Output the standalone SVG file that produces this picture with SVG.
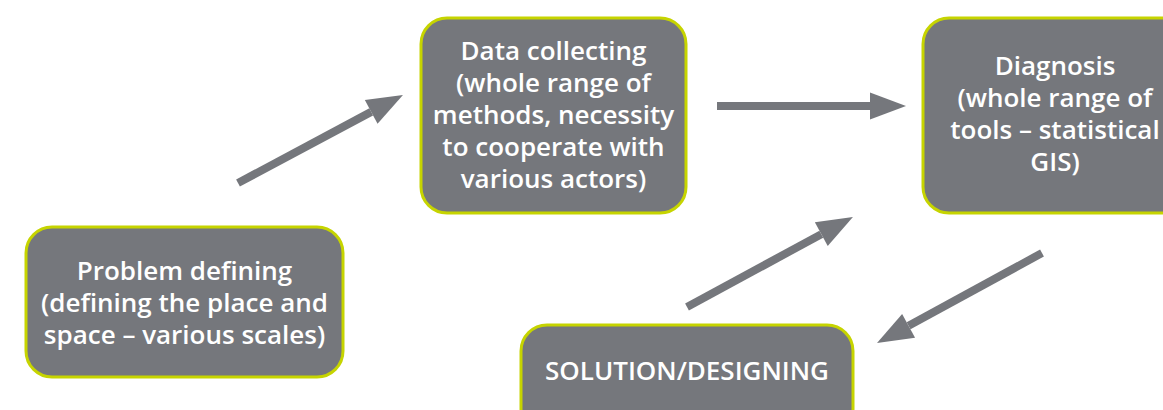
<svg xmlns="http://www.w3.org/2000/svg" width="1163" height="410" viewBox="0 0 1163 410">
<style>
.box{fill:#75777c;stroke:#c6d400;stroke-width:3}
.t{fill:#ffffff;font-family:"Open Sans","Noto Sans",sans-serif;font-weight:600;font-size:26px;text-anchor:middle}
.c{stroke:#75777c;stroke-width:8;fill:none;marker-end:url(#ah)}
</style>
<defs>
<marker id="ah" markerUnits="userSpaceOnUse" markerWidth="40" markerHeight="30" viewBox="0 -15 40 30" refX="0" refY="0" orient="auto" overflow="visible">
<path d="M0,-13.5 L36,0 L0,13.5 z" fill="#75777c"/>
</marker>
</defs>
<g id="connectors">
<line class="c" x1="238" y1="183" x2="371.2" y2="111.9"/>
<line class="c" x1="717" y1="106" x2="870" y2="106"/>
<line class="c" x1="687" y1="307" x2="821.3" y2="234.2"/>
<line class="c" x1="1042" y1="253" x2="908.6" y2="325.8"/>
</g>
<g id="node-problem">
<rect class="box" x="26" y="227" width="317" height="150" rx="26"/>
<text class="t" x="184.5" y="280">Problem defining</text>
<text class="t" x="184.5" y="312">(defining the place and</text>
<text class="t" x="184.5" y="344">space – various scales)</text>
</g>
<g id="node-data">
<rect class="box" x="421" y="18" width="265" height="195" rx="26"/>
<text class="t" x="553.5" y="60">Data collecting</text>
<text class="t" x="553.5" y="92">(whole range of</text>
<text class="t" x="553.5" y="124">methods, necessity</text>
<text class="t" x="553.5" y="156">to cooperate with</text>
<text class="t" x="553.5" y="188">various actors)</text>
</g>
<g id="node-diagnosis">
<rect class="box" x="923" y="18" width="265" height="195" rx="26"/>
<text class="t" x="1055" y="75">Diagnosis</text>
<text class="t" x="1055" y="107">(whole range of</text>
<text class="t" x="1055" y="139">tools – statistical</text>
<text class="t" x="1055" y="171">GIS)</text>
</g>
<g id="node-solution">
<rect class="box" x="521" y="325" width="332" height="110" rx="26"/>
<text class="t" x="687" y="380">SOLUTION/DESIGNING</text>
</g>
</svg>
